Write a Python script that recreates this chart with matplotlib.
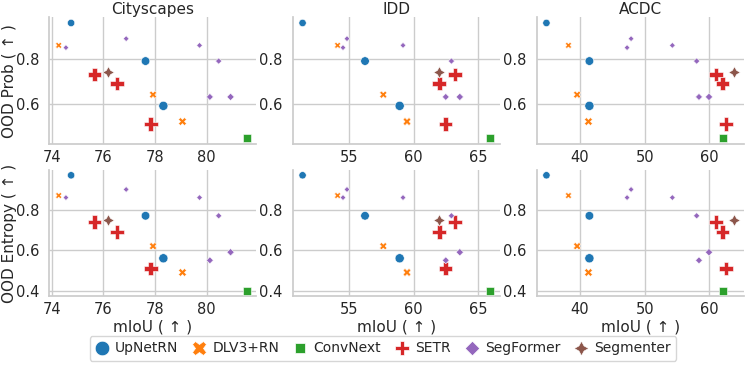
import numpy as np
import matplotlib
matplotlib.use("Agg")
import matplotlib.pyplot as plt
from matplotlib.lines import Line2D

####### datos
models = ["UpNetRN", "DLV3+RN", "ConvNext", "SETR", "SegFormer", "Segmenter"]
model_of_point = [0, 0, 0, 1, 1, 1, 2, 3, 3, 3, 4, 4, 4, 4, 4, 4, 5]

miou_cityscapes = [74.75, 77.63, 78.32, 74.27, 77.92, 79.06, 81.54, 75.65, 76.52, 77.83,
                   74.55, 76.88, 79.72, 80.46, 80.12, 80.92, 76.18]
miou_idd = [51.37, 56.22, 58.91, 54.09, 57.64, 59.48, 65.96, 63.21, 61.99, 62.46,
            54.51, 54.82, 59.17, 62.93, 62.49, 63.58, 61.94]
miou_acdc = [34.79, 41.44, 41.44, 38.20, 39.54, 41.29, 62.16, 61.03, 62.06, 62.58,
             47.27, 47.89, 54.28, 58.04, 58.40, 59.95, 63.87]
ood_prob = [0.96, 0.79, 0.59, 0.86, 0.64, 0.52, 0.445, 0.73, 0.69, 0.51,
            0.85, 0.89, 0.86, 0.79, 0.63, 0.63, 0.74]
ood_entropy = [0.97, 0.77, 0.56, 0.87, 0.62, 0.49, 0.40, 0.74, 0.69, 0.51,
               0.86, 0.90, 0.86, 0.77, 0.55, 0.59, 0.75]
# tamano del modelo (millones de parametros, estimado)
params = [45, 85, 105, 18, 48, 66, 170, 310, 310, 310, 4, 5, 6, 18, 35, 48, 210]

datasets = ["Cityscapes", "IDD", "ACDC"]
miou = [miou_cityscapes, miou_idd, miou_acdc]
metrics = [ood_prob, ood_entropy]
metric_names = ["OOD Prob ( \u2191 )", "OOD Entropy ( \u2191 )"]

colors = ["#1f77b4", "#ff7f0e", "#2ca02c", "#d62728", "#9467bd", "#8c564b"]
markers = ["o", "X", (4, 0, 45), "P", (4, 0, 0), (4, 1, 0)]

plt.rcParams["font.family"] = "DejaVu Sans"
plt.rcParams["axes.edgecolor"] = "0.8"
plt.rcParams["axes.linewidth"] = 1.25
plt.rcParams["grid.color"] = "0.8"
plt.rcParams["grid.linewidth"] = 1.0
plt.rcParams["text.color"] = "0.15"
plt.rcParams["axes.labelcolor"] = "0.15"
plt.rcParams["xtick.color"] = "0.15"
plt.rcParams["ytick.color"] = "0.15"

model_of_point = np.array(model_of_point)
sizes = 16 + 0.26 * np.array(params)

fig, axes = plt.subplots(2, 3, figsize=(7.47, 3.66), dpi=100)
plt.subplots_adjust(left=0.066, right=0.9956, bottom=0.190, top=0.953, wspace=0.18, hspace=0.2)

for r in range(2):
    y = np.array(metrics[r])
    for c in range(3):
        ax = axes[r, c]
        x = np.array(miou[c])
        for m in range(len(models)):
            sel = model_of_point == m
            ax.scatter(x[sel], y[sel], s=sizes[sel], marker=markers[m], color=colors[m],
                       edgecolors="white", linewidths=0.4, zorder=3)
        ax.grid(True)
        ax.set_axisbelow(True)
        ax.spines["top"].set_visible(False)
        ax.spines["right"].set_visible(False)
        ax.tick_params(axis="x", length=0, pad=4, labelsize=10.5)
        ax.tick_params(axis="y", length=0, pad=7.5, labelsize=10.5)
        if r == 0:
            ax.set_yticks([0.6, 0.8])
            ax.set_title(datasets[c], fontsize=11, pad=2)
        else:
            ax.set_yticks([0.4, 0.6, 0.8])
            ax.set_xlabel("mIoU ( \u2191 )", fontsize=11, labelpad=2)
        if c == 0:
            ax.set_ylabel(metric_names[r], fontsize=11, labelpad=-1)
            ax.set_xticks([74, 76, 78, 80])
        elif c == 1:
            ax.set_xticks([55, 60, 65])
        else:
            ax.set_xticks([40, 50, 60])

handles = [Line2D([], [], linestyle="none", marker=markers[m], color=colors[m],
                  markeredgecolor="white", markeredgewidth=0.5, markersize=10.5)
           for m in range(len(models))]
fig.legend(handles, models, loc="lower center", bbox_to_anchor=(0.5127, 0.0137), ncol=6,
           fontsize=10, handlelength=1.0, handletextpad=0.45, columnspacing=1.0,
           borderaxespad=0, frameon=True, edgecolor="0.8")

plt.savefig("out.png", dpi=100)
